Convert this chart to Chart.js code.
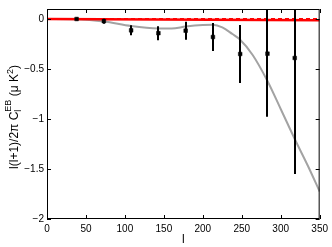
<!DOCTYPE html>
<html>
<head>
<meta charset="utf-8">
<script src="https://cdn.jsdelivr.net/npm/chart.js@4.4.0/dist/chart.umd.min.js"></script>
<style>
    html, body { margin: 0; padding: 0; background: #fff; }
    #wrap { width: 332px; height: 247px; }
</style>
</head>
<body>
<div id="wrap"><canvas id="ebChart"></canvas></div>
<script>
// Axis ticks
const xTicks = [0, 50, 100, 150, 200, 250, 300, 350];
const yTicks = [0, -0.5, -1, -1.5, -2];

// Band powers with error bars
const bandL = [38, 73, 108, 143, 178, 213, 248, 283, 318];
const bandV = [0, -0.022, -0.113, -0.142, -0.117, -0.18, -0.35, -0.347, -0.39];
const bandErr = [0.015, 0.025, 0.05, 0.07, 0.09, 0.14, 0.29, 0.63, 1.16];

// Model curve (grey)
const curveL = [0, 38, 73, 108, 143, 160, 178, 200, 213, 225, 238, 247, 264, 283, 300, 318, 335, 350];
const curveV = [0, -0.003, -0.025, -0.07, -0.094, -0.095, -0.075, -0.06, -0.058, -0.084, -0.15, -0.2, -0.36, -0.62, -0.9, -1.2, -1.47, -1.725];

// Red reference lines
const refL = [0, 350];
const solidV = [0, -0.012];
const dashV = [0, 0];

const FONT = 'Liberation Sans, Arial, Helvetica, sans-serif';

function toPoints(xs, ys) {
    return xs.map((x, i) => ({ x: x, y: ys[i] }));
}

function fmt(v) {
    return String(v).replace('-', '\u2212');
}

// error bars on top of everything, clipped to the axes
const errorBars = {
    id: 'errorBars',
    afterDatasetsDraw(chart) {
        const ctx = chart.ctx;
        const a = chart.chartArea;
        const xs = chart.scales.x, ys = chart.scales.y;
        ctx.save();
        ctx.beginPath();
        ctx.rect(a.left, a.top, a.right - a.left, a.bottom - a.top);
        ctx.clip();
        ctx.strokeStyle = '#000';
        ctx.lineWidth = 2;
        bandL.forEach((l, i) => {
            const x = Math.round(xs.getPixelForValue(l));
            ctx.beginPath();
            ctx.moveTo(x, ys.getPixelForValue(bandV[i] + bandErr[i]));
            ctx.lineTo(x, ys.getPixelForValue(bandV[i] - bandErr[i]));
            ctx.stroke();
        });
        ctx.restore();
    }
};

// MATLAB style box, inward ticks and axis titles
const axesBox = {
    id: 'axesBox',
    afterDraw(chart) {
        const ctx = chart.ctx;
        const a = chart.chartArea;
        const xs = chart.scales.x, ys = chart.scales.y;
        const tl = 4;
        ctx.save();
        ctx.strokeStyle = '#000';
        ctx.lineWidth = 1;
        ctx.strokeRect(a.left + 0.5, a.top + 0.5, a.right - a.left - 1, a.bottom - a.top - 1);
        ctx.beginPath();
        xTicks.forEach(v => {
            const x = Math.round(xs.getPixelForValue(v)) + 0.5;
            ctx.moveTo(x, a.bottom); ctx.lineTo(x, a.bottom - tl);
            ctx.moveTo(x, a.top); ctx.lineTo(x, a.top + tl);
        });
        yTicks.forEach(v => {
            const y = Math.round(ys.getPixelForValue(v)) + 0.5;
            ctx.moveTo(a.left, y); ctx.lineTo(a.left + tl, y);
            ctx.moveTo(a.right, y); ctx.lineTo(a.right - tl, y);
        });
        ctx.stroke();

        // x title
        ctx.fillStyle = '#000';
        ctx.font = '12px ' + FONT;
        ctx.textAlign = 'center';
        ctx.textBaseline = 'alphabetic';
        ctx.fillText('l', (a.left + a.right) / 2, 243);

        // y title: l(l+1)/2π C_l^EB (μ K^2)
        const main = '12px ' + FONT, small = '9px ' + FONT;
        const parts = [
            { t: 'l(l+1)/2\u03c0 C', f: main, dy: 0 },
            { t: 'l', f: small, dy: 3, sup: 'EB' },
            { t: ' (\u03bc K', f: main, dy: 0 },
            { t: '2', f: small, dy: -5 },
            { t: ')', f: main, dy: 0 }
        ];
        let total = 0;
        parts.forEach(p => {
            ctx.font = p.f;
            let w = ctx.measureText(p.t).width;
            if (p.sup) w = Math.max(w, ctx.measureText(p.sup).width);
            p.w = w;
            total += w;
        });
        ctx.translate(14, 117);
        ctx.rotate(-Math.PI / 2);
        ctx.textAlign = 'left';
        let x = -total / 2;
        parts.forEach(p => {
            ctx.font = p.f;
            ctx.fillText(p.t, x, 4 + p.dy);
            if (p.sup) ctx.fillText(p.sup, x, -3);
            x += p.w;
        });
        ctx.restore();
    }
};

function pickTicks(list) {
    return function(scale) {
        scale.ticks = list.map(v => ({ value: v }));
    };
}

const ctx = document.getElementById('ebChart').getContext('2d');
window.ebChart = new Chart(ctx, {
    type: 'scatter',
    data: {
        datasets: [
            {
                label: 'bands',
                data: toPoints(bandL, bandV),
                pointStyle: 'rect',
                pointRadius: 2.6,
                backgroundColor: '#000',
                borderColor: '#000',
                borderWidth: 0.5
            },
            {
                label: 'solid',
                data: toPoints(refL, solidV),
                showLine: true,
                pointRadius: 0,
                borderColor: '#ff0000',
                borderWidth: 2.5
            },
            {
                label: 'dashed',
                data: toPoints(refL, dashV),
                showLine: true,
                pointRadius: 0,
                borderColor: '#ff0000',
                borderDash: [4, 3],
                borderWidth: 2
            },
            {
                label: 'model',
                data: toPoints(curveL, curveV),
                showLine: true,
                pointRadius: 0,
                borderColor: '#a3a3a3',
                borderWidth: 2,
                tension: 0.4,
                cubicInterpolationMode: 'monotone'
            }
        ]
    },
    options: {
        responsive: true,
        maintainAspectRatio: false,
        animation: false,
        layout: { padding: { top: 3, right: 12, left: 0, bottom: 0 } },
        plugins: {
            legend: { display: false },
            tooltip: { enabled: false }
        },
        scales: {
            x: {
                type: 'linear',
                min: 0,
                max: 350,
                afterBuildTicks: pickTicks(xTicks),
                afterFit: s => { s.height = 28; },
                grid: { display: false, drawTicks: false },
                border: { display: false },
                ticks: {
                    color: '#000',
                    padding: 4,
                    maxRotation: 0,
                    font: { family: FONT, size: 10 },
                    callback: v => fmt(v)
                }
            },
            y: {
                type: 'linear',
                min: -2,
                max: 0.1,
                afterBuildTicks: pickTicks(yTicks),
                afterFit: s => { s.width = 47; },
                grid: { display: false, drawTicks: false },
                border: { display: false },
                ticks: {
                    color: '#000',
                    padding: 3,
                    font: { family: FONT, size: 10 },
                    callback: v => fmt(v)
                }
            }
        }
    },
    plugins: [errorBars, axesBox]
});
</script>
</body>
</html>
